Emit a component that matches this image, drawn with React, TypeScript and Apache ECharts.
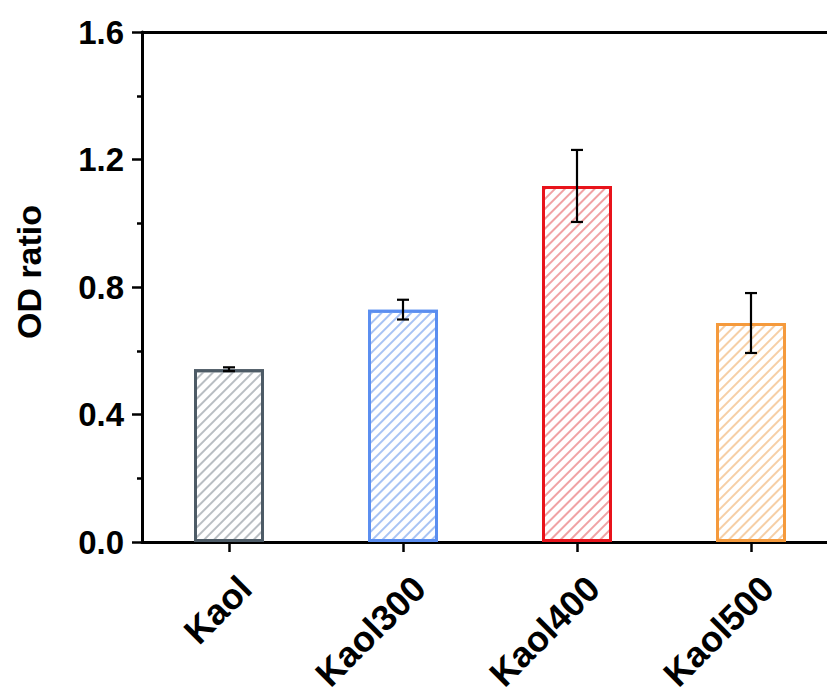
import React, { useEffect, useRef } from "react";
import * as echarts from "echarts";

const categories = ["Kaol", "Kaol300", "Kaol400", "Kaol500"];
const values = [0.542, 0.729, 1.117, 0.687];
const errors = [0.006, 0.031, 0.113, 0.094];
const borderColors = ["#4d5b66", "#5b8ef0", "#e8131b", "#f59a3c"];
const hatchColors = ["#b9bec3", "#a8c3f4", "#f0a2a4", "#f6cfa6"];
const yTicks = [0, 0.4, 0.8, 1.2, 1.6];

const FONT = '"Liberation Sans", Arial, Helvetica, sans-serif';

export default function App() {
  const ref = useRef<HTMLDivElement>(null);
  useEffect(() => {
    if (!ref.current) return;
    const chart = echarts.init(ref.current, undefined, { renderer: "svg" });
    const option: any = {
      animation: false,
      backgroundColor: "#ffffff",
      grid: {
        left: 142,
        top: 32,
        right: 22,
        bottom: 158,
        outerBoundsMode: "none",
        containLabel: false,
        show: false,
      },
      xAxis: [
        {
          type: "category",
          data: categories,
          axisLine: { show: true, lineStyle: { color: "#000", width: 3 } },
          axisTick: { show: true, alignWithLabel: true, length: 10, lineStyle: { color: "#000", width: 2.5 } },
          axisLabel: {
            rotate: 45,
            margin: 24,
            fontSize: 36,
            lineHeight: 46,
            fontWeight: "bold",
            fontFamily: FONT,
            color: "#000",
            verticalAlign: "top",
          },
          splitLine: { show: false },
        },
        {
          type: "category",
          data: categories,
          position: "top",
          axisLine: { show: true, onZero: false, lineStyle: { color: "#000", width: 3 } },
          axisTick: { show: false },
          axisLabel: { show: false },
          splitLine: { show: false },
        },
      ],
      yAxis: {
        type: "value",
        min: yTicks[0],
        max: yTicks[yTicks.length - 1],
        interval: 0.4,
        name: "OD ratio",
        nameLocation: "middle",
        nameGap: 96,
        nameTextStyle: {
          fontSize: 34,
          fontWeight: "bold",
          fontFamily: FONT,
          color: "#000",
          padding: [0, 0, 0, 30],
        },
        axisLine: { show: true, lineStyle: { color: "#000", width: 3 } },
        axisTick: { show: true, length: 10, lineStyle: { color: "#000", width: 2.5 } },
        minorTick: { show: true, splitNumber: 2, length: 5, lineStyle: { color: "#000", width: 2.5 } },
        axisLabel: {
          margin: 18,
          fontSize: 33,
          fontWeight: "bold",
          fontFamily: FONT,
          color: "#000",
          formatter: (v: number) => v.toFixed(1),
        },
        splitLine: { show: false },
        minorSplitLine: { show: false },
      },
      series: [
        {
          type: "bar",
          barWidth: 70,
          data: values.map((v, i) => ({
            value: v,
            itemStyle: {
              color: "#ffffff",
              borderColor: borderColors[i],
              borderWidth: 3,
              decal: {
                symbol: "rect",
                symbolSize: 1,
                dashArrayX: [1, 0],
                dashArrayY: [1.2, 4.3],
                rotation: -Math.PI / 4,
                color: hatchColors[i],
              },
            },
          })),
          z: 2,
        },
        {
          type: "custom",
          data: values.map((v, i) => [i, v, errors[i]]),
          z: 5,
          renderItem: (params: any, api: any) => {
            const idx = api.value(0);
            const v = api.value(1);
            const e = api.value(2);
            const top = api.coord([idx, v + e]);
            const bot = api.coord([idx, v - e]);
            const hw = 6;
            const style = { stroke: "#000", lineWidth: 2.2 };
            return {
              type: "group",
              children: [
                { type: "line", shape: { x1: top[0], y1: top[1], x2: bot[0], y2: bot[1] }, style },
                { type: "line", shape: { x1: top[0] - hw, y1: top[1], x2: top[0] + hw, y2: top[1] }, style },
                { type: "line", shape: { x1: bot[0] - hw, y1: bot[1], x2: bot[0] + hw, y2: bot[1] }, style },
              ],
            };
          },
        },
      ],
    };
    chart.setOption(option);
    return () => chart.dispose();
  }, []);
  return (
    <div
      style={{
        position: "absolute",
        left: 0,
        top: 0,
        width: 827,
        height: 700,
        overflow: "hidden",
        background: "#fff",
      }}
    >
      <div ref={ref} style={{ width: 860, height: 700 }} />
    </div>
  );
}
